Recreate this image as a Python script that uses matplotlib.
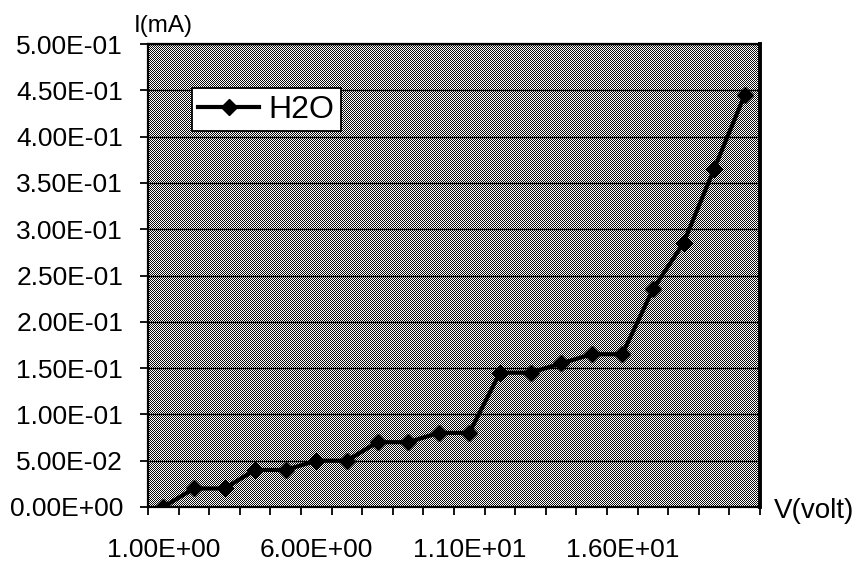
import numpy as np
import matplotlib
matplotlib.use("Agg")
from matplotlib import pyplot as plt

plt.rcParams['font.family'] = ['Liberation Sans', 'DejaVu Sans']

# ─── Dados: tensão (categorias) e corrente medida ───────────────
v_volt = list(range(1, 21))
i_ma = [0.0, 0.02, 0.02, 0.04, 0.04, 0.05, 0.05, 0.07, 0.07, 0.08,
        0.08, 0.145, 0.145, 0.155, 0.165, 0.165, 0.235, 0.285, 0.365, 0.445]
x_labels = [f"{v:.2E}" for v in v_volt]
y_ticks = np.arange(0, 0.5001, 0.05)
y_labels = [f"{t:.2E}" for t in y_ticks]

fig = plt.figure(figsize=(8.58, 5.61), dpi=100)
ax = fig.add_axes([148 / 858, 54 / 561, 612 / 858, 463 / 561])

# fundo pontilhado (textura tipo impressão)
ny, nx = 463, 612
yy, xx = np.indices((ny, nx))
pattern = (xx + yy) % 2
ax.imshow(pattern, cmap='gray', vmin=-0.05, vmax=1.0, interpolation='none',
          extent=(0.5, 20.5, 0, 0.5), aspect='auto', zorder=0)

pos = np.arange(1, len(v_volt) + 1)
ax.plot(pos, i_ma, color='black', lw=3, marker='D', markersize=8.5,
        label='H2O', zorder=3)

ax.set_xlim(0.5, 20.5)
ax.set_ylim(0, 0.5)

ax.set_yticks(y_ticks)
ax.set_yticklabels(y_labels)
ax.yaxis.grid(True, color='black', lw=1.0)
ax.set_axisbelow(False)

ax.set_xticks(pos[::5])
ax.set_xticklabels([x_labels[i] for i in range(0, 20, 5)])
ax.set_xticks(np.arange(0.5, 21, 1), minor=True)
ax.tick_params(axis='x', which='major', length=0, pad=22, labelsize=19)
ax.tick_params(axis='x', which='minor', length=6, width=1.3, direction='out')
ax.tick_params(axis='y', length=6, width=1.3, direction='out', pad=12, labelsize=19)

for side in ['left', 'bottom', 'top']:
    ax.spines[side].set_linewidth(1.6)
ax.spines['right'].set_linewidth(2.8)

fig.text(134 / 858, 1 - 26 / 561, 'I(mA)', fontsize=17.5, ha='left', va='center')
fig.text(814 / 858, 1 - 511 / 561, 'V(volt)', fontsize=20, ha='center', va='center')

leg = ax.legend(loc='upper left', bbox_to_anchor=(0.072, 0.904), fontsize=23,
                frameon=True, fancybox=False, framealpha=1, edgecolor='black',
                borderpad=0.2, handlelength=1.9, handletextpad=0.3,
                borderaxespad=0)
leg.get_frame().set_linewidth(1.3)

fig.savefig('out.png', dpi=100)
